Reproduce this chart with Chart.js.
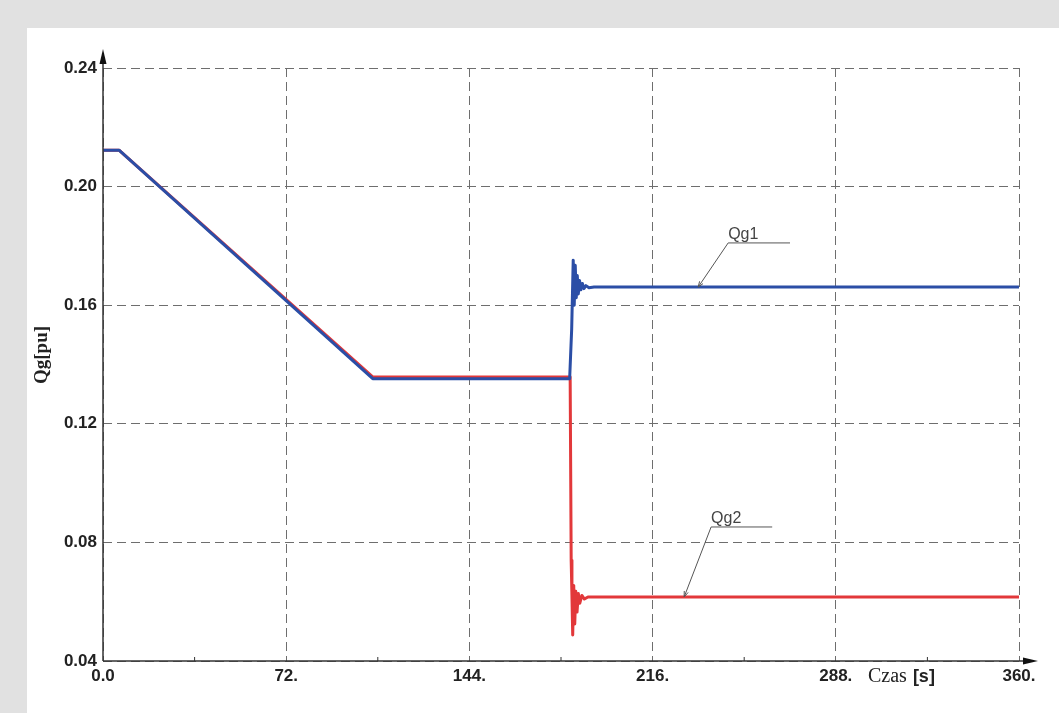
<!DOCTYPE html>
<html>
<head>
<meta charset="utf-8">
<script src="https://cdn.jsdelivr.net/npm/chart.js@4/dist/chart.umd.min.js"></script>
<style>
  html, body { margin: 0; padding: 0; background: #e1e1e1; width: 1059px; height: 713px; overflow: hidden; }
  #panel { position: absolute; left: 27px; top: 28px; width: 1032px; height: 685px; background: #fff; }
  canvas { display: block; }
</style>
</head>
<body>
<div id="panel"><canvas id="qgChart" width="1032" height="685"></canvas></div>
<script>
// values
const xTickLabels = ["0.0", "72.", "144.", "216.", "288.", "360."];
const yTickLabels = ["0.04", "0.08", "0.12", "0.16", "0.20", "0.24"];

const qg1Time = [0, 6.3, 106, 183.4, 184.2, 184.8, 185.2, 185.6, 186.0, 186.4, 186.8, 187.3, 187.8, 188.4, 189.0, 189.8, 191, 193, 360];
const qg1Vals = [0.2123, 0.2123, 0.1352, 0.1352, 0.152, 0.1752, 0.160, 0.1735, 0.1625, 0.170, 0.1638, 0.1683, 0.1652, 0.1673, 0.1656, 0.1666, 0.1659, 0.1661, 0.1661];

const qg2Time = [0, 6.3, 106, 183.6, 184.0, 184.3, 184.6, 185.0, 185.4, 185.8, 186.3, 186.8, 187.4, 188.2, 189.2, 190.6, 360];
const qg2Vals = [0.2123, 0.2123, 0.1358, 0.1358, 0.074, 0.062, 0.0488, 0.0655, 0.0525, 0.0635, 0.0565, 0.0628, 0.0595, 0.0621, 0.0609, 0.0616, 0.0616];

// label leaders: [text x, line y, line end x, tip x, tip y] in data units
const qg1Leader = [245.7, 0.1810, 270, 233.9, 0.1661];
const qg2Leader = [239.0, 0.0852, 263, 228.4, 0.0616];

const asPoints = (xs, ys) => xs.map((x, i) => ({ x: x, y: ys[i] }));

const extras = {
  id: "extras",
  afterDraw(chart) {
    const c = chart.ctx;
    const xs = chart.scales.x, ys = chart.scales.y;
    const left = xs.left, bottom = ys.bottom, top = ys.top, right = xs.right;
    c.save();
    // axis lines + arrows
    c.strokeStyle = "#333"; c.fillStyle = "#111"; c.lineWidth = 1.5;
    c.beginPath(); c.moveTo(left, bottom); c.lineTo(left, top - 14); c.stroke();
    c.beginPath(); c.moveTo(left, top - 19); c.lineTo(left - 3.5, top - 4); c.lineTo(left + 3.5, top - 4); c.closePath(); c.fill();
    c.beginPath(); c.moveTo(left, bottom); c.lineTo(right + 14, bottom); c.stroke();
    c.beginPath(); c.moveTo(right + 19, bottom); c.lineTo(right + 4, bottom - 3.5); c.lineTo(right + 4, bottom + 3.5); c.closePath(); c.fill();
    // minor ticks on x axis
    c.lineWidth = 1;
    for (let i = 0; i < xTickLabels.length - 1; i++) {
      const px = xs.getPixelForValue(36 + 72 * i);
      c.beginPath(); c.moveTo(px, bottom); c.lineTo(px, bottom - 4); c.stroke();
    }
    // leaders + labels
    c.strokeStyle = "#555"; c.fillStyle = "#444";
    c.font = "16px 'Liberation Sans', Arial, sans-serif";
    c.textBaseline = "alphabetic"; c.textAlign = "left";
    [["Qg1", qg1Leader], ["Qg2", qg2Leader]].forEach(([txt, l]) => {
      const x0 = xs.getPixelForValue(l[0]), y0 = ys.getPixelForValue(l[1]);
      const x1 = xs.getPixelForValue(l[2]);
      const tx = xs.getPixelForValue(l[3]), ty = ys.getPixelForValue(l[4]);
      c.beginPath(); c.moveTo(x1, y0); c.lineTo(x0, y0); c.lineTo(tx, ty); c.stroke();
      const a = Math.atan2(ty - y0, tx - x0);
      c.beginPath();
      c.moveTo(tx - 6 * Math.cos(a - 0.35), ty - 6 * Math.sin(a - 0.35));
      c.lineTo(tx, ty);
      c.lineTo(tx - 6 * Math.cos(a + 0.35), ty - 6 * Math.sin(a + 0.35));
      c.stroke();
      c.fillText(txt, x0, y0 - 4);
    });
    // axis titles
    c.fillStyle = "#222";
    c.save();
    c.translate(15, 327);
    c.rotate(-Math.PI / 2);
    c.textAlign = "center"; c.textBaseline = "middle";
    c.font = "bold 19px 'Liberation Serif', 'Times New Roman', serif";
    c.fillText("Qg[pu]", 0, 0);
    c.restore();
    c.textBaseline = "middle"; c.textAlign = "left";
    c.font = "20px 'Liberation Serif', 'Times New Roman', serif";
    c.fillText("Czas", 841, 649);
    const w = c.measureText("Czas ").width;
    c.font = "bold 18px 'Liberation Sans', Arial, sans-serif";
    c.fillText("[s]", 841 + w + 1, 649);
    c.restore();
  }
};

const gridStyle = {
  color: "#6e6e6e",
  lineWidth: 1,
  drawTicks: false
};

new Chart(document.getElementById("qgChart").getContext("2d"), {
  type: "line",
  data: {
    datasets: [
      {
        label: "Qg1",
        data: asPoints(qg1Time, qg1Vals),
        borderColor: "#2b4ea6",
        borderWidth: 3,
        pointRadius: 0,
        tension: 0,
        borderJoinStyle: "round"
      },
      {
        label: "Qg2",
        data: asPoints(qg2Time, qg2Vals),
        borderColor: "#e2383a",
        borderWidth: 3,
        pointRadius: 0,
        tension: 0,
        borderJoinStyle: "round"
      }
    ]
  },
  options: {
    responsive: false,
    animation: false,
    layout: { padding: { left: 0, top: 40, right: 40, bottom: 0 } },
    plugins: { legend: { display: false }, tooltip: { enabled: false } },
    scales: {
      x: {
        type: "linear",
        min: 0,
        max: 360,
        afterFit: s => { s.height = 52; },
        afterBuildTicks: s => { s.ticks = xTickLabels.map((_, i) => ({ value: i * 72 })); },
        ticks: {
          padding: 5,
          maxRotation: 0,
          color: "#222",
          font: { family: "'Liberation Sans', Arial, sans-serif", size: 17, weight: "bold" },
          callback: (v, i) => xTickLabels[i]
        },
        grid: gridStyle,
        border: { display: false, dash: [9, 5] }
      },
      y: {
        min: 0.04,
        max: 0.24,
        afterFit: s => { s.width = 76; },
        afterBuildTicks: s => { s.ticks = yTickLabels.map(t => ({ value: parseFloat(t) })); },
        ticks: {
          padding: 6,
          color: "#222",
          font: { family: "'Liberation Sans', Arial, sans-serif", size: 17, weight: "bold" },
          callback: (v, i) => yTickLabels[i]
        },
        grid: gridStyle,
        border: { display: false, dash: [9, 5] }
      }
    }
  },
  plugins: [extras]
});
</script>
</body>
</html>
